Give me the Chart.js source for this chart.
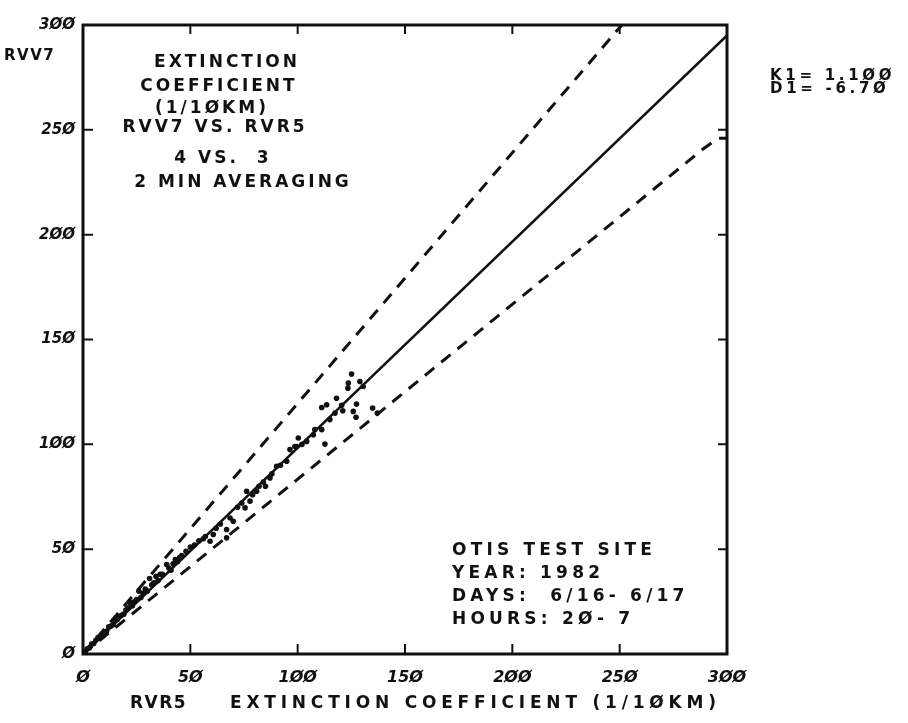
<!DOCTYPE html>
<html>
<head>
<meta charset="utf-8">
<script src="https://cdn.jsdelivr.net/npm/chart.js@4.4.0/dist/chart.umd.min.js"></script>
<style>
  html, body { margin: 0; padding: 0; background: #fff; }
  #wrap { width: 908px; height: 723px; }
</style>
</head>
<body>
<div id="wrap"><canvas id="rvvChart" width="908" height="723"></canvas></div>
<script>
// RVV7 vs RVR5 extinction coefficient scatter (1/10KM)
const tickValues = [0, 50, 100, 150, 200, 250, 300];

// scatter samples: [RVR5, RVV7]
const samples = [
  [1, 1], [2, 2.5], [3, 3], [4, 4.8], [5, 5], [6, 6.5], [7, 7.8], [8, 8],
  [9, 9.5], [10, 10.5], [11, 11], [12, 13], [13, 13.3], [14, 14], [15, 16],
  [16, 16.5], [17, 18], [18, 18.5], [19, 19], [20, 21], [21, 22], [22, 24.5],
  [23, 23], [24, 25], [25, 26], [26, 30], [27, 27], [28, 29], [29, 31], [30, 30],
  [31, 36], [32, 33], [33, 34], [34, 37], [35, 35], [36, 38], [37, 38], [39, 42.7],
  [40, 41], [41, 40], [42, 43], [43, 45], [44, 44], [45, 46], [46, 47], [48, 49],
  [50, 51], [52, 52], [54, 54], [56, 55], [57, 56], [59.2, 53.8], [60.7, 57],
  [62, 60], [64, 62], [66.9, 55.4], [66.9, 59.4], [68.5, 64.9], [70, 63.3],
  [72, 70], [74, 72], [75.5, 69.7], [76.2, 77.6], [77.8, 72.9], [79, 76],
  [80.9, 77.6], [82, 80], [84, 82], [85, 80], [87.1, 84], [88, 86], [90.2, 89.5],
  [92, 90], [94.9, 91.9], [96.4, 97.5], [98.7, 99], [99.5, 99], [100.3, 103],
  [102, 100], [104.2, 101.4], [107.3, 104.6], [108, 107], [111.2, 107],
  [112.7, 100.1], [111.2, 117.6], [113.5, 118.9], [115, 111.8], [117.4, 114.9],
  [118.1, 122], [120.5, 118.6], [121, 116], [123.4, 126.8], [123.6, 129.2],
  [125.1, 133.5], [125.9, 115.7], [127.2, 112.9], [127.4, 119.2], [129, 130],
  [130.5, 127.6], [134.9, 117.3], [137.1, 114.9]
];

// fitted line and the two limit lines
const fitLine = [[0, 0], [300, 295]];
const upperLimit = [[0, 0], [251, 300]];
const lowerLimit = [[0, 0], [289, 241], [296, 246], [300, 246]];

// text blocks
const titleLines = ['EXTINCTION', 'COEFFICIENT', '(1/1ØKM)', 'RVV7 VS. RVR5', '4 VS.  3', '2 MIN AVERAGING'];
const fitLines = ['K1= 1.1ØØ', 'D1= -6.7Ø'];
const siteLines = ['OTIS TEST SITE', 'YEAR: 1982', 'DAYS:  6/16- 6/17', 'HOURS: 2Ø- 7'];
const yAxisName = 'RVV7';
const xAxisName = 'RVR5';
const xAxisTitle = 'EXTINCTION COEFFICIENT (1/1ØKM)';

const toXY = arr => arr.map(p => ({ x: p[0], y: p[1] }));
const slashZero = v => String(v).replace(/0/g, 'Ø');

const SANS = "'DejaVu Sans', sans-serif";

const framePlugin = {
  id: 'frame',
  afterDraw(chart) {
    const ctx = chart.ctx;
    const a = chart.chartArea;
    const xs = chart.scales.x;
    const ys = chart.scales.y;
    ctx.save();
    ctx.strokeStyle = '#111';
    ctx.lineWidth = 3;
    ctx.strokeRect(a.left, a.top, a.right - a.left, a.bottom - a.top);

    // inward tick marks on all four sides
    ctx.lineWidth = 2;
    tickValues.slice(1, -1).forEach(v => {
      const px = xs.getPixelForValue(v);
      const py = ys.getPixelForValue(v);
      ctx.beginPath();
      ctx.moveTo(px, a.bottom); ctx.lineTo(px, a.bottom - 10);
      ctx.moveTo(px, a.top); ctx.lineTo(px, a.top + 9);
      ctx.moveTo(a.left, py); ctx.lineTo(a.left + 10, py);
      ctx.moveTo(a.right, py); ctx.lineTo(a.right - 9, py);
      ctx.stroke();
    });

    ctx.fillStyle = '#111';
    ctx.textBaseline = 'middle';

    // title block
    ctx.font = 'bold 17px ' + SANS;
    ctx.letterSpacing = '3px';
    ctx.textAlign = 'center';
    const titleY = [63, 87, 109, 128, 159, 183];
    const titleX = [227, 219, 212, 215, 223, 243];
    titleLines.forEach((t, i) => ctx.fillText(t, titleX[i], titleY[i]));

    // fit constants
    ctx.textAlign = 'left';
    ctx.font = 'bold 15px ' + SANS;
    ctx.letterSpacing = '3.7px';
    fitLines.forEach((t, i) => ctx.fillText(t, 770, 76 + i * 13));

    // site info
    ctx.font = 'bold 17px ' + SANS;
    ctx.letterSpacing = '4.2px';
    siteLines.forEach((t, i) => ctx.fillText(t, 452, 551 + i * 23));

    // axis names
    ctx.font = 'bold 15px ' + SANS;
    ctx.letterSpacing = '1.5px';
    ctx.fillText(yAxisName, 4, 56);
    ctx.font = 'bold 17px ' + SANS;
    ctx.fillText(xAxisName, 130, 704);
    ctx.letterSpacing = '4.8px';
    ctx.fillText(xAxisTitle, 230, 704);
    ctx.restore();
  }
};

new Chart(document.getElementById('rvvChart'), {
  type: 'scatter',
  data: {
    datasets: [
      {
        label: 'samples',
        data: toXY(samples),
        pointRadius: 2.8,
        pointBackgroundColor: '#111',
        pointBorderWidth: 0,
        showLine: false
      },
      {
        label: 'fit',
        data: toXY(fitLine),
        showLine: true,
        borderColor: '#111',
        borderWidth: 2.5,
        pointRadius: 0,
        tension: 0
      },
      {
        label: 'upper',
        data: toXY(upperLimit),
        showLine: true,
        borderColor: '#111',
        borderWidth: 3,
        borderDash: [12, 9],
        pointRadius: 0,
        tension: 0
      },
      {
        label: 'lower',
        data: toXY(lowerLimit),
        showLine: true,
        borderColor: '#111',
        borderWidth: 3,
        borderDash: [12, 9],
        pointRadius: 0,
        tension: 0
      }
    ]
  },
  options: {
    responsive: false,
    animation: false,
    layout: { padding: { top: 25, right: 181, left: 0, bottom: 0 } },
    plugins: { legend: { display: false }, tooltip: { enabled: false } },
    scales: {
      x: {
        type: 'linear',
        min: 0,
        max: 300,
        afterBuildTicks: s => { s.ticks = tickValues.map(v => ({ value: v })); },
        afterFit: s => { s.height = 69; },
        grid: { display: false, drawTicks: false },
        border: { display: false },
        ticks: {
          padding: 14,
          color: '#111',
          font: { family: 'DejaVu Sans', size: 16, weight: 'bold', style: 'italic' },
          callback: v => slashZero(v),
          maxRotation: 0
        }
      },
      y: {
        type: 'linear',
        min: 0,
        max: 300,
        afterBuildTicks: s => { s.ticks = tickValues.map(v => ({ value: v })); },
        afterFit: s => { s.width = 83; },
        grid: { display: false, drawTicks: false },
        border: { display: false },
        ticks: {
          padding: 8,
          color: '#111',
          font: { family: 'DejaVu Sans', size: 15, weight: 'bold', style: 'italic' },
          callback: v => slashZero(v)
        }
      }
    }
  },
  plugins: [framePlugin]
});
</script>
</body>
</html>
